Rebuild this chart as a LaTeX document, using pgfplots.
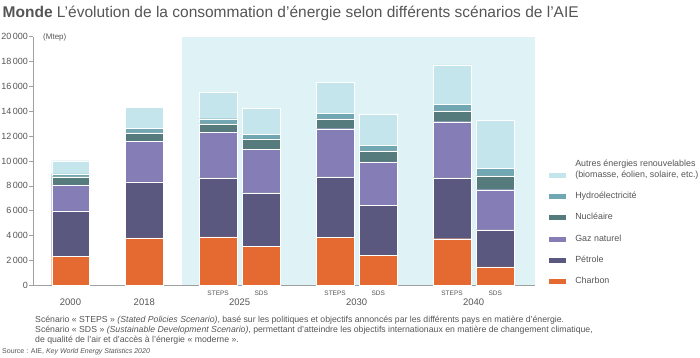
\documentclass[border=0pt]{standalone}
\usepackage{pgfplots}
\pgfplotsset{compat=1.18}
\usepackage{fontspec}
\setmainfont{Liberation Sans}
\definecolor{coal}{HTML}{E46A32}
\definecolor{oil}{HTML}{5B587F}
\definecolor{gas}{HTML}{857EB6}
\definecolor{nuc}{HTML}{557B7D}
\definecolor{hydro}{HTML}{70A7B2}
\definecolor{other}{HTML}{C3E5EB}
\definecolor{bgc}{HTML}{DFF3F6}
\definecolor{txt}{HTML}{555555}
\definecolor{axc}{HTML}{A0A0A0}
\pgfplotsset{geom/.style={at={(33pt,-285.3pt)}, anchor=south west,
  scale only axis, width=502pt, height=248.6pt,
  xmin=-0.508, xmax=6.294, ymin=0, ymax=20000}}
\begin{document}
\begin{tikzpicture}
\useasboundingbox (0,0) rectangle (700pt,-358pt);
\begin{axis}[geom, hide axis]
\fill[bgc] (axis cs:1.511,0) rectangle (axis cs:6.294,20000);
\end{axis}
\begin{axis}[
  geom,
  clip=false,
  axis lines=left,
  axis line style={-, draw=axc, line width=0.5pt},
  xtick=\empty,
  ytick={0,2000,...,20000},
  scaled y ticks=false,
  tick align=outside, major tick length=4pt,
  ytick style={draw=axc, line width=0.5pt},
  yticklabel style={font=\fontsize{9}{10}\selectfont, text=txt, inner sep=1pt},
  /pgf/number format/assume math mode=true,
  /pgf/number format/1000 sep={\,},
  ybar stacked, bar width=0.508,
  every axis plot/.append style={draw=white, line width=0.3pt},
  reverse legend,
  legend cell align=left,
  legend image code/.code={\fill[#1] (0pt,-3pt) rectangle (18pt,3pt);},
  legend style={draw=none, fill=none, at={(1.0259,-0.002)}, anchor=south west,
    inner sep=0pt, outer sep=0pt, row sep=12.8pt,
    font=\fontsize{8.9}{10}\selectfont, text=txt,
    nodes={inner sep=0pt, text height=6.5pt, text depth=2pt},
    /tikz/every odd column/.append style={column sep=9pt}},
]
\addplot[fill=coal] coordinates {(0,2306) (1,3807) (2,3887) (2.585,3110) (3.585,3834) (4.17,2413) (5.17,3753) (5.755,1475)};
\addlegendentry{Charbon}
\addplot[fill=oil] coordinates {(0,3673) (1,4504) (2,4773) (2.585,4343) (3.585,4906) (4.17,4021) (5.17,4907) (5.755,3002)};
\addlegendentry{Pétrole}
\addplot[fill=gas] coordinates {(0,2091) (1,3298) (2,3646) (2.585,3512) (3.585,3861) (4.17,3486) (5.17,4503) (5.755,3217)};
\addlegendentry{Gaz naturel}
\addplot[fill=nuc] coordinates {(0,670) (1,670) (2,697) (2.585,805) (3.585,804) (4.17,911) (5.17,885) (5.755,1126)};
\addlegendentry{Nucléaire}
\addplot[fill=hydro] coordinates {(0,215) (1,375) (2,402) (2.585,402) (3.585,456) (4.17,456) (5.17,537) (5.755,590)};
\addlegendentry{Hydroélectricité}
\addplot[fill=other] coordinates {(0,1072) (1,1663) (2,2145) (2.585,2064) (3.585,2466) (4.17,2493) (5.17,3163) (5.755,3888)};
\addlegendentry{\rlap{\raisebox{10.3pt}[0pt][0pt]{Autres énergies renouvelables}}(biomasse, éolien, solaire, etc.)}
% scenario labels
\foreach \xx/\lab in {2/STEPS,2.585/SDS,3.585/STEPS,4.17/SDS,5.17/STEPS,5.755/SDS}{
  \edef\tmp{\noexpand\node[anchor=base, inner sep=0pt, font=\noexpand\fontsize{6.5}{7}\noexpand\selectfont, text=txt] at (axis cs:\xx,0) [yshift=-10pt] {\lab};}\tmp
}
\foreach \xx/\lab in {0/2000,1/2018,2.2925/2025,3.8775/2030,5.4625/2040}{
  \edef\tmp{\noexpand\node[anchor=base, inner sep=0pt, font=\noexpand\fontsize{9.5}{10}\noexpand\selectfont, text=txt] at (axis cs:\xx,0) [yshift=-20.2pt] {\lab};}\tmp
}
\end{axis}
\node[anchor=west, inner sep=0pt, font=\fontsize{8}{9}\selectfont, text=txt] at (43pt,-37pt) {(Mtep)};
\node[anchor=base west, inner sep=0pt, font=\fontsize{15.5}{18}\selectfont, text=txt] at (2.5pt,-17.5pt) {\textbf{Monde} L’évolution de la consommation d’énergie selon différents scénarios de l’AIE};
\node[anchor=base west, inner sep=0pt, font=\fontsize{8.7}{9}\selectfont, text=txt] at (35pt,-322.5pt) {Scénario «~STEPS~» \textit{(Stated Policies Scenario)}, basé sur les politiques et objectifs annoncés par les différents pays en matière d’énergie.};
\node[anchor=base west, inner sep=0pt, font=\fontsize{8.7}{9}\selectfont, text=txt] at (35pt,-332.5pt) {Scénario «~SDS~» \textit{(Sustainable Development Scenario)}, permettant d’atteindre les objectifs internationaux en matière de changement climatique,};
\node[anchor=base west, inner sep=0pt, font=\fontsize{8.7}{9}\selectfont, text=txt] at (35pt,-342.5pt) {de qualité de l’air et d’accès à l’énergie «~moderne~».};
\node[anchor=base west, inner sep=0pt, font=\fontsize{7}{8}\selectfont, text=txt] at (2pt,-353.5pt) {Source : AIE, \textit{Key World Energy Statistics 2020}};
\end{tikzpicture}
\end{document}
